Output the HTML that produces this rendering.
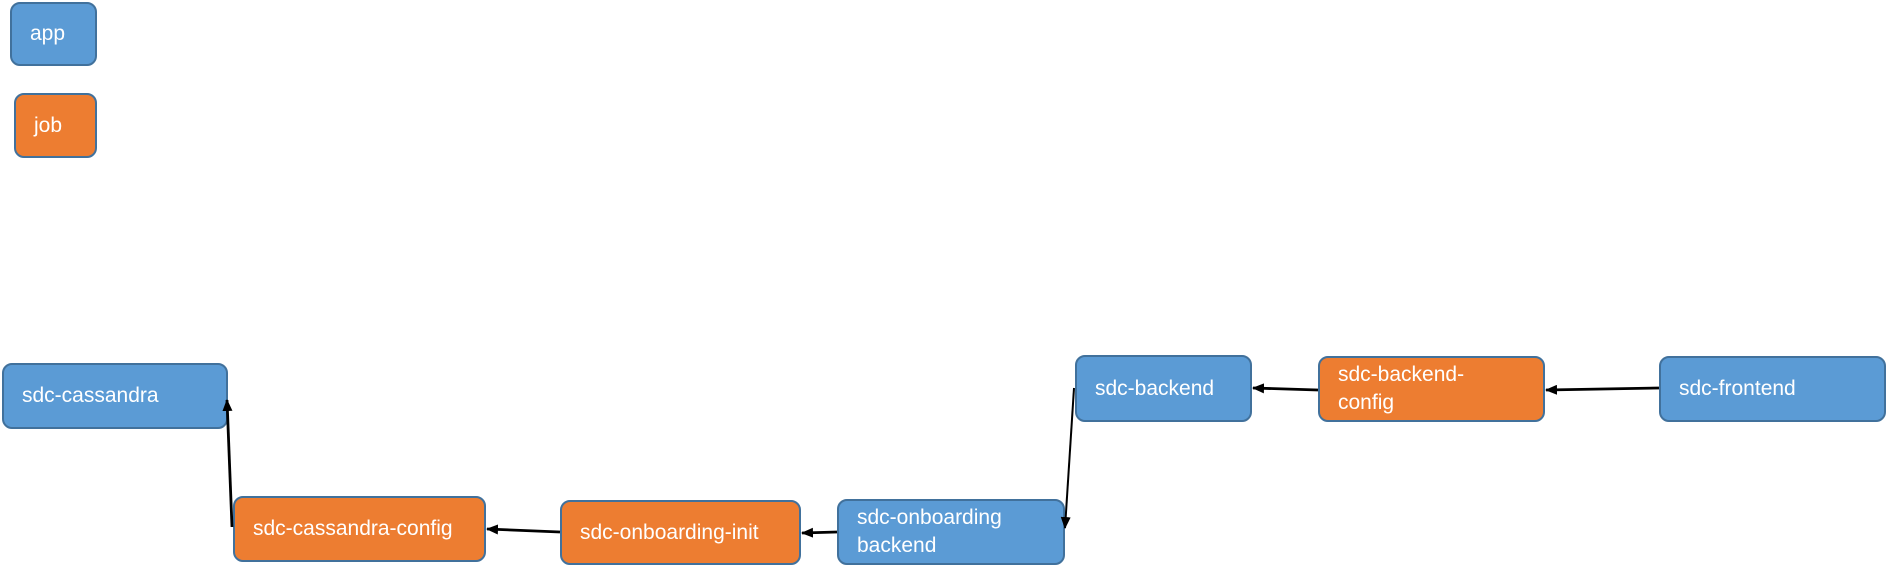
<!DOCTYPE html>
<html><head><style>
body{margin:0;width:1886px;height:577px;background:#fff;position:relative;overflow:hidden;font-family:"Liberation Sans",sans-serif;}
.b{position:absolute;box-sizing:border-box;border:2px solid #41719c;border-radius:10px;color:#fff;font-size:21px;line-height:28px;padding-left:18px;display:flex;align-items:center;}
.a{background:#5b9bd5}.j{background:#ed7d31}
svg{position:absolute;left:0;top:0}
</style></head><body>
<div class="b a" style="left:10px;top:2px;width:87px;height:64px;">app</div>
<div class="b j" style="left:14px;top:93px;width:83px;height:65px;">job</div>
<div class="b a" style="left:2px;top:363px;width:226px;height:66px;">sdc-cassandra</div>
<div class="b j" style="left:233px;top:496px;width:253px;height:66px;">sdc-cassandra-config</div>
<div class="b j" style="left:560px;top:500px;width:241px;height:65px;">sdc-onboarding-init</div>
<div class="b a" style="left:837px;top:499px;width:228px;height:66px;">sdc-onboarding<br>backend</div>
<div class="b a" style="left:1075px;top:355px;width:177px;height:67px;">sdc-backend</div>
<div class="b j" style="left:1318px;top:356px;width:227px;height:66px;">sdc-backend-<br>config</div>
<div class="b a" style="left:1659px;top:356px;width:227px;height:66px;">sdc-frontend</div>
<svg width="1886" height="577">
<defs><marker id="m" markerWidth="12" markerHeight="10" refX="11" refY="5" orient="auto" markerUnits="userSpaceOnUse"><path d="M0,0 L12,5 L0,10 z" fill="#000"/></marker></defs>
<g stroke="#000" stroke-width="2.8" fill="none" marker-end="url(#m)">
<line x1="232" y1="527" x2="227" y2="400"/>
<line x1="560" y1="532" x2="487" y2="529"/>
<line x1="837" y1="532" x2="802" y2="533"/>
<line x1="1074" y1="388" x2="1065" y2="528" stroke-width="2"/>
<line x1="1318" y1="390" x2="1253" y2="388"/>
<line x1="1659" y1="388" x2="1546" y2="390"/>
</g></svg>
</body></html>
